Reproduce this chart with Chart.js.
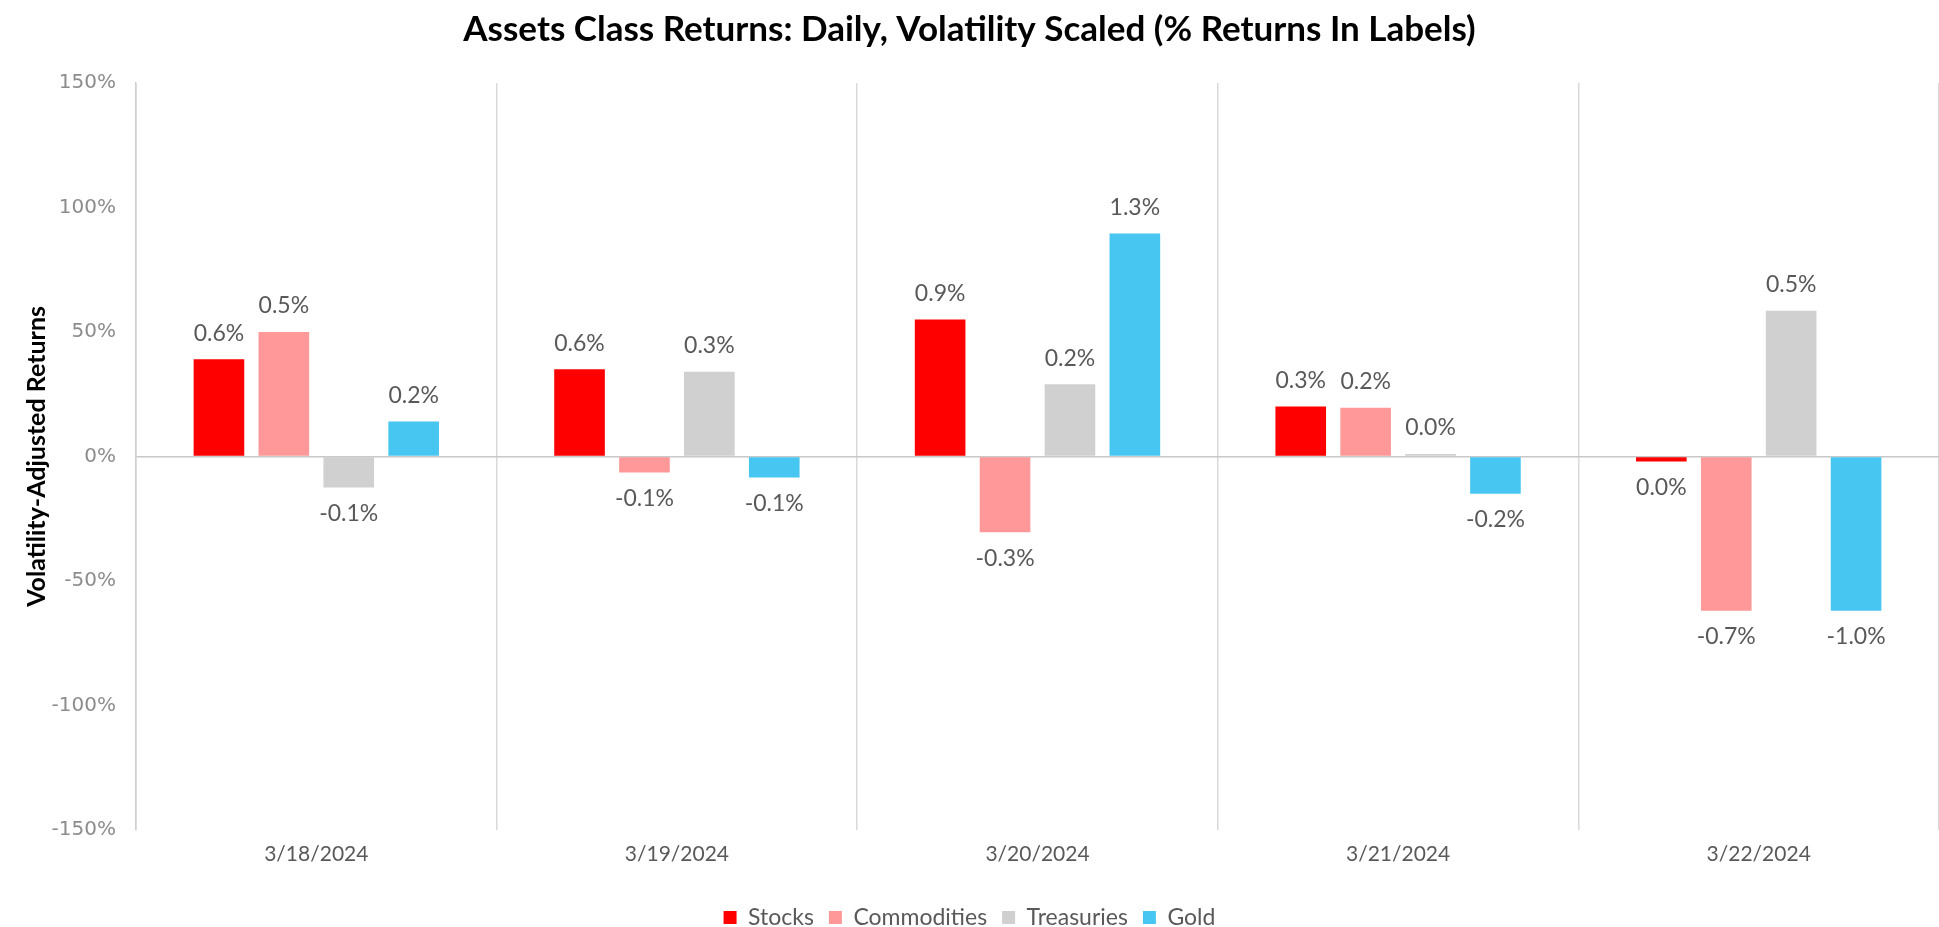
<!DOCTYPE html>
<html>
<head>
<meta charset="utf-8">
<script src="https://cdn.jsdelivr.net/npm/chart.js@4.4.1/dist/chart.umd.min.js"></script>
<style>
  html, body { margin: 0; padding: 0; background: #fff; }
  #wrap { width: 1939px; height: 927px; position: relative; }
</style>
</head>
<body>
<div id="wrap"><canvas id="assetChart"></canvas></div>
<script>
  // volatility-scaled returns, in percent
  const dates = ['3/18/2024', '3/19/2024', '3/20/2024', '3/21/2024', '3/22/2024'];
  const stocks = [39, 35, 55, 20, -2];
  const commodities = [50, -6.5, -30.5, 19.5, -62];
  const treasuries = [-12.5, 34, 29, 1, 58.5];
  const gold = [14, -8.5, 89.5, -15, -62];

  // raw daily returns shown in labels
  const stocksRet = ['0.6%', '0.6%', '0.9%', '0.3%', '0.0%'];
  const commoditiesRet = ['0.5%', '-0.1%', '-0.3%', '0.2%', '-0.7%'];
  const treasuriesRet = ['-0.1%', '0.3%', '0.2%', '0.0%', '0.5%'];
  const goldRet = ['0.2%', '-0.1%', '1.3%', '-0.2%', '-1.0%'];

  const yMin = -150, yMax = 150, yStep = 50;

  const returnLabels = {
    id: 'returnLabels',
    afterDatasetsDraw(chart) {
      const ctx = chart.ctx;
      ctx.save();
      ctx.font = '23px Lato';
      ctx.fillStyle = '#595959';
      ctx.textAlign = 'center';
      ctx.textBaseline = 'middle';
      chart.data.datasets.forEach((ds, i) => {
        const meta = chart.getDatasetMeta(i);
        meta.data.forEach((bar, j) => {
          const y = ds.data[j] >= 0 ? bar.y - 26 : bar.y + 26;
          ctx.fillText(ds.returns[j], bar.x, y);
        });
      });
      ctx.restore();
    }
  };

  new Chart(document.getElementById('assetChart'), {
    type: 'bar',
    data: {
      labels: dates,
      datasets: [
        { label: 'Stocks', data: stocks, returns: stocksRet, backgroundColor: '#ff0000' },
        { label: 'Commodities', data: commodities, returns: commoditiesRet, backgroundColor: '#ff9999' },
        { label: 'Treasuries', data: treasuries, returns: treasuriesRet, backgroundColor: '#d0d0d0' },
        { label: 'Gold', data: gold, returns: goldRet, backgroundColor: '#48c6f2' }
      ]
    },
    options: {
      responsive: true,
      maintainAspectRatio: false,
      animation: false,
      // legend sits low, close to the bottom edge
      layout: { padding: { left: 0, right: 0, top: 0, bottom: -12 } },
      datasets: { bar: { categoryPercentage: 0.72, barPercentage: 0.78 } },
      plugins: {
        title: {
          display: true,
          text: 'Assets Class Returns: Daily, Volatility Scaled (% Returns In Labels)',
          color: '#000',
          font: { family: 'Lato', size: 35, weight: 'bold' },
          padding: { top: 9, bottom: 32 }
        },
        legend: {
          position: 'bottom',
          labels: {
            boxWidth: 13,
            boxHeight: 13,
            padding: 15,
            color: '#595959',
            font: { family: 'Lato', size: 23 }
          }
        },
        tooltip: { enabled: false }
      },
      scales: {
        x: {
          afterFit(scale) { scale.height += 12; },
          grid: { offset: true, color: '#d9d9d9', lineWidth: 1.5, drawTicks: false },
          border: { display: false },
          ticks: { color: '#595959', font: { family: 'Lato', size: 21 }, padding: 12 }
        },
        y: {
          min: yMin,
          max: yMax,
          afterFit(scale) { scale.width = 136; },
          grid: {
            color: (c) => c.tick && c.tick.value === 0 ? '#c8c8c8' : 'transparent',
            lineWidth: 1.5,
            drawTicks: false
          },
          border: { display: true, color: '#d0d0d0', width: 1.5 },
          ticks: {
            stepSize: yStep,
            padding: 20,
            color: '#8c8c8c',
            font: { family: 'DejaVu Sans', size: 20 },
            callback: (v) => v + '%'
          },
          title: {
            display: true,
            text: 'Volatility-Adjusted Returns',
            color: '#000',
            font: { family: 'Lato', size: 25, weight: 'bold' },
            padding: { top: 22, bottom: 0 }
          }
        }
      }
    },
    plugins: [returnLabels]
  });
</script>
</body>
</html>
